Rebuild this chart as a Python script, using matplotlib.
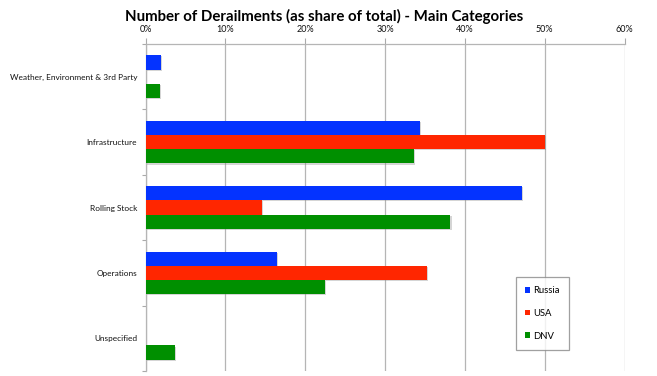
import matplotlib
matplotlib.use("Agg")
import matplotlib.pyplot as plt
import matplotlib.patheffects as pe
from matplotlib.patches import Patch
import numpy as np

categories = ["Weather, Environment & 3rd Party", "Infrastructure", "Rolling Stock",
              "Operations", "Unspecified"]
series_names = ["Russia", "USA", "DNV"]
russia = [1.9, 34.4, 47.2, 16.5, 0.0]
usa = [0.0, 50.0, 14.6, 35.3, 0.0]
dnv = [1.8, 33.6, 38.2, 22.5, 3.7]
xticks = [0, 10, 20, 30, 40, 50, 60]
xtick_labels = ["0%", "10%", "20%", "30%", "40%", "50%", "60%"]

colors = ["#0433FF", "#FF2600", "#008F00"]

plt.rcParams['font.family'] = ['Lato', 'DejaVu Sans']

fig = plt.figure(figsize=(6.57, 3.76), dpi=100)
ax = fig.add_axes([145.5/657, 1-371/376, (624.5-145.5)/657, (371-44)/376])

n = len(categories)
y = np.arange(n)
h = 0.218
shadow = [pe.SimplePatchShadow(offset=(0.8, -0.8), shadow_rgbFace='#888888', alpha=0.35), pe.Normal()]
for i, (vals, c) in enumerate(zip([russia, usa, dnv], colors)):
    bars = ax.barh(y + (i-1)*h, vals, height=h, color=c, zorder=3)
    for b in bars:
        if b.get_width() > 0:
            b.set_path_effects(shadow)

ax.set_xlim(0, 60)
ax.set_ylim(n-0.5, -0.5)
ax.xaxis.tick_top()
ax.set_xticks(xticks)
ax.set_xticklabels(xtick_labels, fontsize=6.5, color='#111111')
ax.tick_params(axis='x', length=4, width=0.8, color='#aaaaaa', pad=3)
ax.grid(axis='x', color='#b5b5b5', linewidth=0.9, zorder=0)

ax.set_yticks(y)
ax.set_yticklabels(categories, fontsize=5.95, color='#111111')
ax.tick_params(axis='y', length=0, pad=6)
ax.set_yticks(np.arange(n+1)-0.5, minor=True)
ax.tick_params(axis='y', which='minor', length=3, width=0.8, color='#aaaaaa')

for s in ['right', 'bottom']:
    ax.spines[s].set_visible(False)
for s in ['top', 'left']:
    ax.spines[s].set_color('#b5b5b5')
    ax.spines[s].set_linewidth(0.9)

fig.suptitle("Number of Derailments (as share of total) - Main Categories",
             x=324.5/657, y=1-9/376, va='top', fontsize=10.8, fontweight='bold')

handles = [Patch(facecolor=c, edgecolor='none') for c in colors]
leg = fig.legend(handles, series_names, loc='upper left',
                 bbox_to_anchor=(515.7/657, 1-277.3/376), fontsize=6.8,
                 handlelength=0.55, handleheight=0.55, handletextpad=0.35,
                 labelspacing=1.45, borderpad=0.95, borderaxespad=0,
                 fancybox=False, frameon=True)
leg.get_frame().set_edgecolor('#888888')
leg.get_frame().set_linewidth(0.9)

fig.savefig("out.png", dpi=100)
